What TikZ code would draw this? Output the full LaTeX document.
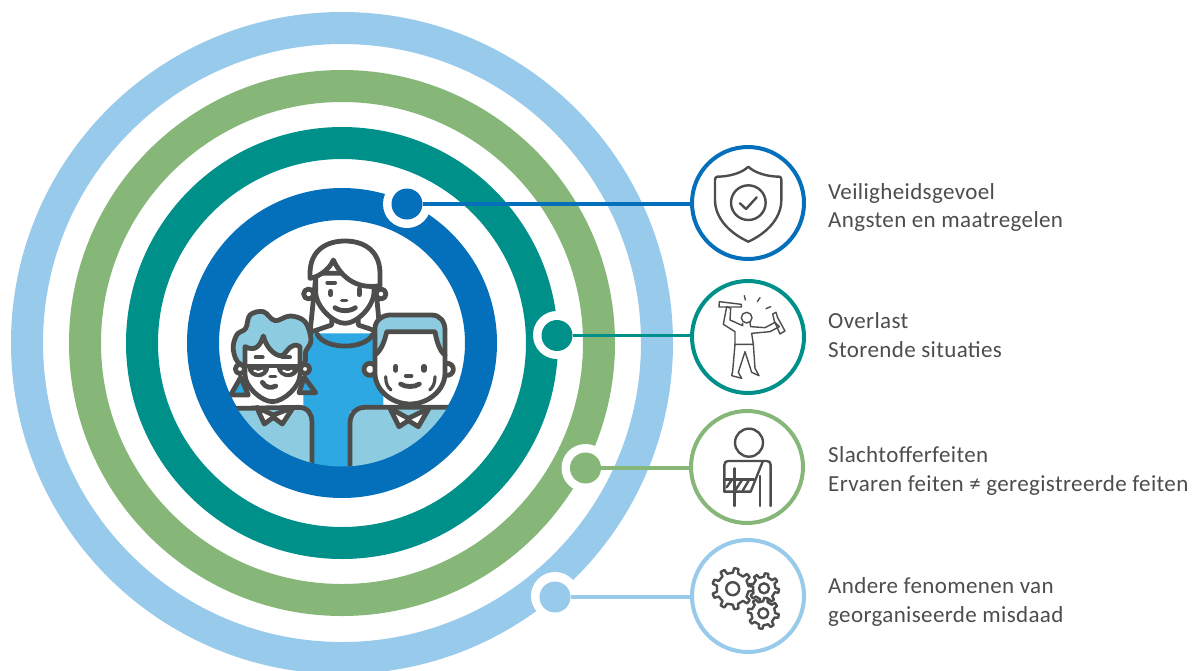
\documentclass[tikz,border=0pt]{standalone}
\usepackage{fontspec}
\setmainfont[LetterSpace=1.6]{Carlito}
\usetikzlibrary{calc}
\definecolor{cblue}{HTML}{046FBA}
\definecolor{cteal}{HTML}{00908A}
\definecolor{cgreen}{HTML}{86B778}
\definecolor{clight}{HTML}{98CAEC}
\definecolor{ink}{HTML}{4D4D4C}
\definecolor{shirt}{HTML}{8CCBE0}
\definecolor{dress}{HTML}{2EA8E2}
\tikzset{
 ringline/.style={line width=32pt},
 halo/.style={circle,fill=white,minimum size=48pt,inner sep=0},
 dot/.style={circle,fill=#1,minimum size=31pt,inner sep=0},
 conn/.style={line width=3.2pt,draw=#1},
 iconring/.style={circle,draw=#1,line width=4pt,fill=white,minimum size=112pt,inner sep=0},
 lab/.style={anchor=base west,inner sep=0,align=left,text=ink,font=\fontsize{23}{28.4}\selectfont},
 fam/.style={draw=ink,line width=4.8pt,line join=round,line cap=round},
 icon/.style={draw=ink,line width=2.4pt,line join=round,line cap=round},
 thin/.style={draw=ink,line width=1.4pt,line join=round,line cap=round},
}
\newcommand{\gearshape}[6]{% cx cy Rout Rin teeth rot
 \draw[icon,fill=white] (#1,#2) ++(#6:#3)
  \foreach \k in {1,...,#5}{
   -- ($(#1,#2)+(#6+360/#5*\k-360/#5+55/#5:#3)$)
   -- ($(#1,#2)+(#6+360/#5*\k-360/#5+85/#5:#4)$)
   -- ($(#1,#2)+(#6+360/#5*\k-360/#5+275/#5:#4)$)
   -- ($(#1,#2)+(#6+360/#5*\k-360/#5+305/#5:#3)$)
   -- ($(#1,#2)+(#6+360/#5*\k:#3)$)
  } -- cycle;
}
\begin{document}
\begin{tikzpicture}[x=1pt,y=-1pt]
\clip (0,0) rectangle (1192,670);
\fill[white] (0,0) rectangle (1192,670);
% rings
\coordinate (c) at (342,343);
\draw[ringline,clight] (c) circle (315);
\draw[ringline,cgreen] (c) circle (257);
\draw[ringline,cteal] (c) circle (200);
\draw[ringline,cblue] (c) circle (139);
% halos
\node[halo] at (407,204) {};
\node[halo] at (557,335) {};
\node[halo] at (585.5,468) {};
\node[halo] at (555,596) {};
% family
\begin{scope}
\clip (c) circle (123.5);
% woman
\begin{scope}[shift={(300,235)},scale=1/3]
\fill[dress] (10,295) -- (250,295) -- (250,530) -- (150,530) -- (150,710) -- (10,710) -- cycle;
\draw[fam,fill=white] (47,130) -- (30,292) -- (95,270) -- (95,235) -- (175,235) -- (175,270) -- (240,292) -- (225,130) -- cycle;
\draw[fam] (52,298) .. controls (75,345) and (195,345) .. (218,298);
\draw[fam,fill=white] (26,177) circle (15);
\draw[fam,fill=white] (243,177) circle (15);
\draw[fam,fill=white] (47,115) -- (47,170) .. controls (47,215) and (100,265) .. (135,265)
  .. controls (170,265) and (222,215) .. (222,170) -- (222,115) -- cycle;
\draw[fam,fill=white] (30,125) -- (30,115) .. controls (30,50) and (75,18) .. (135,18)
  .. controls (195,18) and (240,50) .. (240,115) -- (240,152)
  .. controls (195,160) and (135,150) .. (100,75)
  .. controls (90,100) and (60,125) .. (30,130) -- cycle;
\draw[fam,line width=4pt] (82,143) -- (105,143);
\draw[fam,line width=5.5pt] (92,170) -- (92,178);
\draw[fam,line width=5.5pt] (178,163) -- (178,178);
\draw[fam,line width=3.4pt] (125,197) -- (140,197);
\draw[fam] (105,218) .. controls (120,230) and (150,230) .. (166,218);
\end{scope}
% grandma
\begin{scope}[shift={(225,300)},scale=1/3]
\draw[fam,fill=white] (45,207) circle (14);
\draw[fam,fill=white] (240,207) circle (14);
\draw[fam,fill=dress] (47,232) -- (17,285) -- (70,285) -- cycle;
\draw[fam,fill=dress] (238,232) -- (272,278) -- (222,278) -- cycle;
\draw[fam,fill=shirt] plot[smooth cycle,tension=.6] coordinates {(50,195) (25,150) (35,105) (62,85) (75,45) (115,35) (150,62) (195,48) (240,65) (258,120) (242,155) (232,195) (140,205)};
\draw[fam,fill=white] (60,140) .. controls (90,155) and (105,140) .. (115,108)
 .. controls (125,150) and (160,175) .. (175,165) .. controls (190,150) and (200,125) .. (225,140)
 -- (225,225) .. controls (225,260) and (175,305) .. (142,305)
 .. controls (110,305) and (60,260) .. (60,225) -- cycle;
\draw[fam,line width=4pt] (92,172) -- (113,172);
\draw[fam,line width=4pt] (172,172) -- (195,172);
\draw[fam,line width=4pt] (62,198) -- (225,198);
\draw[fam,line width=3.6pt,fill=ink] (72,200) .. controls (75,235) and (125,235) .. (128,200) -- cycle;
\draw[fam,line width=3.6pt,fill=ink] (160,200) .. controls (165,235) and (215,235) .. (218,200) -- cycle;
\draw[white,line width=2pt,line cap=round] (88,212) .. controls (95,218) and (105,218) .. (112,212);
\draw[white,line width=2pt,line cap=round] (175,212) .. controls (182,218) and (192,218) .. (200,212);
\draw[fam,line width=3.4pt] (135,229) -- (152,229);
\draw[fam] (112,247) .. controls (122,265) and (140,265) .. (152,258);
\draw[fam,fill=shirt] (-20,500) -- (-20,340) .. controls (10,325) and (30,325) .. (45,325) -- (222,322)
 .. controls (250,322) and (261,345) .. (261,365) -- (261,520) -- (-20,520) -- cycle;
\draw[fam,fill=white] (95,322) -- (118,372) -- (145,352) -- (172,372) -- (205,322) -- (145,345) -- cycle;
\draw[fam] (145,345) -- (145,352);
\end{scope}
% man
\begin{scope}[shift={(355,310)},scale=1/3]
\draw[fam,fill=white] (45,178) circle (18);
\draw[fam,fill=white] (277,178) circle (18);
\draw[fam,fill=shirt] (60,135) -- (60,55) .. controls (60,30) and (85,15) .. (105,15) -- (230,15)
 .. controls (255,15) and (270,35) .. (270,60) -- (270,135) -- cycle;
\draw[fam,fill=white] (60,135) .. controls (80,120) and (90,90) .. (95,65) -- (240,65)
 .. controls (245,95) and (255,125) .. (270,135) -- (270,190)
 .. controls (270,240) and (220,282) .. (165,282) .. controls (110,282) and (60,240) .. (60,190) -- cycle;
\draw[fam,line width=5.5pt] (122,170) -- (122,180);
\draw[fam,line width=5.5pt] (207,170) -- (207,180);
\draw[fam,line width=3.4pt] (152,198) -- (170,198);
\draw[fam] (137,222) .. controls (150,232) and (180,232) .. (193,222);
\draw[fam,line width=3.2pt] (92,200) .. controls (92,220) and (98,232) .. (108,240);
\draw[fam,line width=3.2pt] (240,200) .. controls (240,220) and (234,232) .. (224,240);
\draw[fam,fill=shirt] (-15,520) -- (-15,340) .. controls (-15,310) and (5,292) .. (30,292) -- (300,292) -- (300,520) -- cycle;
\draw[fam,fill=white] (105,295) -- (132,350) -- (160,332) -- (190,350) -- (222,295) -- (160,325) -- cycle;
\draw[fam] (160,325) -- (160,332);
\end{scope}
\end{scope}
% dots
\node[dot=cblue] (d1) at (407,204) {};
\node[dot=cteal] (d2) at (557,335.5) {};
\node[dot=cgreen] (d3) at (585.5,468) {};
\node[dot=clight] (d4) at (555,597) {};
% icon circles
\node[iconring=cblue] (i1) at (748,203) {};
\node[iconring=cteal] (i2) at (748,337) {};
\node[iconring=cgreen] (i3) at (747,467) {};
\node[iconring=clight] (i4) at (748,596) {};
\draw[conn=cblue] (d1) -- (d1-|i1.west);
\draw[conn=cteal] (d2) -- (d2-|i2.west);
\draw[conn=cgreen] (d3) -- (d3-|i3.west);
\draw[conn=clight] (d4) -- (d4-|i4.west);
% shield
\begin{scope}[shift={(680,135)},scale=1/3]
\draw[icon] (205,95) .. controls (225,115) and (265,125) .. (298,125) .. controls (303,125) and (304,130) .. (304,135)
 -- (304,195) .. controls (304,250) and (260,295) .. (205,320)
 .. controls (150,295) and (105,250) .. (105,195) -- (105,135) .. controls (105,130) and (107,125) .. (112,125)
 .. controls (145,125) and (185,115) .. (205,95) -- cycle;
\draw[icon] (205,203) circle (52);
\draw[icon] (180,205) -- (198,222) -- (230,187);
% man with bottles
\draw[thin,fill=white] (200,548) circle (16);
\draw[thin] (118,500) -- (184,508) -- (184,516) -- (117,516) -- cycle;
\draw[thin] (188,565) -- (188,572) -- (150,555) -- (152,520) -- (140,515) -- (130,568) -- (165,590) -- (165,628) -- (220,628) -- (215,595) -- (270,590) -- (298,575) -- (285,562) -- (255,578) -- (212,575) -- (210,562);
\draw[thin] (165,628) -- (158,708) -- (155,722) -- (185,730) -- (175,712) -- (195,650) -- (215,712) -- (237,722) -- (225,700) -- (220,628);
\draw[thin] (278,537) -- (288,532) -- (293,548) -- (315,588) -- (300,597) -- (283,558) -- cycle;
\draw[thin] (193,482) -- (196,495);
\draw[thin] (240,488) -- (232,500);
\draw[thin] (272,515) -- (258,521);
\end{scope}
% sling person
\begin{scope}[shift={(680,400)},scale=1/3]
\draw[icon] (207,128) circle (42);
\draw[icon] (133,275) -- (133,195) .. controls (133,187) and (138,183) .. (145,183) -- (260,183) .. controls (268,183) and (272,187) .. (272,195) -- (272,318);
\draw[icon] (133,275) -- (212,275) -- (248,185);
\draw[icon] (133,238) -- (222,238);
\draw[icon] (163,205) -- (163,318);
\draw[icon] (240,228) -- (240,318);
\draw[icon] (140,262) -- (155,240);
\draw[icon] (165,272) -- (186,240);
\draw[icon] (188,272) -- (206,242);
\end{scope}
% gears
\gearshape{764}{588.3}{15}{11.5}{8}{10}
\draw[icon] (764,588.3) circle (5);
\gearshape{732.7}{588.7}{20.5}{16}{9}{0}
\draw[icon] (732.7,588.7) circle (6.5);
\gearshape{763.3}{613.3}{15.5}{12}{8}{10}
\draw[icon] (763.3,613.3) circle (5);
% labels
\node[lab] (t1) at (828,227.5) {Veiligheidsgevoel\\Angsten en maatregelen};
\node[lab] (t2) at (828,357) {Overlast\\Storende situaties};
\node[lab] (t3) at (828,491) {Slachtofferfeiten\\Ervaren feiten ≠ geregistreerde feiten};
\node[lab] (t4) at (828,622) {Andere fenomenen van\\georganiseerde misdaad};
\end{tikzpicture}
\end{document}
